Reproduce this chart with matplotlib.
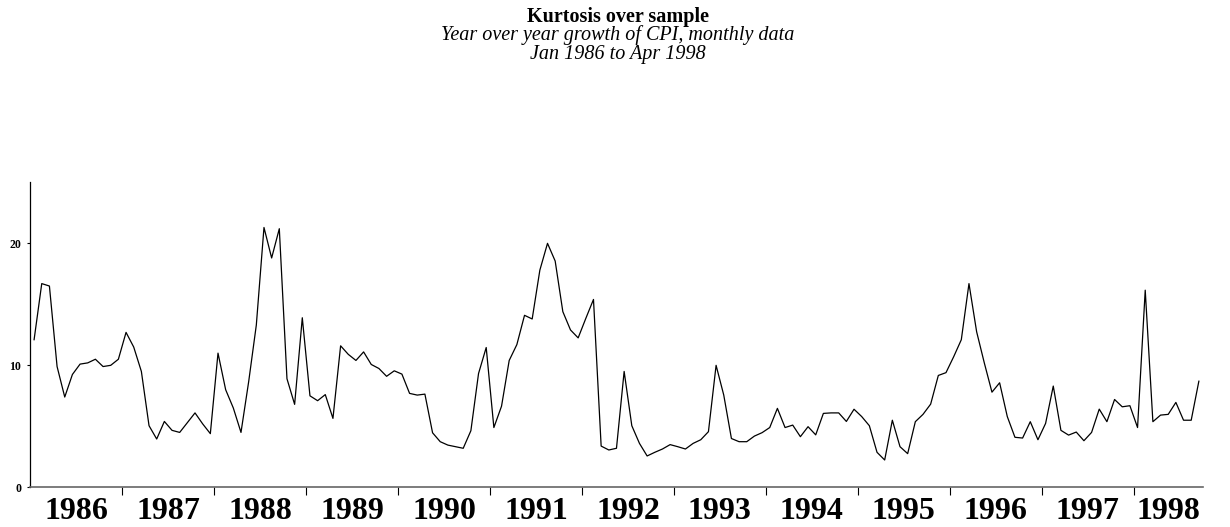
import matplotlib
matplotlib.use("Agg")
import matplotlib.pyplot as plt
import numpy as np

plt.rcParams["font.family"] = ["Liberation Serif", "DejaVu Serif"]

# Kurtosis
kurtosis = [
    12.1, 16.7, 16.5, 9.9, 7.4, 9.25, 10.1, 10.2, 10.5, 9.9, 10.0, 10.5,
    12.7, 11.5, 9.5, 5.05, 3.96, 5.4, 4.67, 4.5, 5.3, 6.1, 5.2, 4.4,
    11.0, 8.0, 6.5, 4.5, 8.65, 13.3, 21.3, 18.8, 21.2, 8.9, 6.8, 13.9,
    7.5, 7.1, 7.6, 5.65, 11.6, 10.9, 10.4, 11.1, 10.07, 9.74, 9.1, 9.55,
    9.28, 7.7, 7.56, 7.64, 4.47, 3.74, 3.46, 3.33, 3.2, 4.64, 9.33, 11.46,
    4.9, 6.65, 10.4, 11.7, 14.1, 13.8, 17.8, 20.0, 18.55, 14.4, 12.9, 12.25,
    13.85, 15.4, 3.38, 3.06, 3.2, 9.5, 5.05, 3.6, 2.57, 2.87, 3.14, 3.5,
    3.33, 3.14, 3.6, 3.9, 4.56, 10.0, 7.56, 4.0, 3.74, 3.74, 4.2, 4.48,
    4.9, 6.47, 4.9, 5.1, 4.15, 4.97, 4.3, 6.06, 6.1, 6.1, 5.4, 6.4,
    5.8, 5.05, 2.87, 2.24, 5.5, 3.33, 2.76, 5.38, 5.98, 6.82, 9.17, 9.4,
    10.7, 12.1, 16.7, 12.75, 10.2, 7.8, 8.57, 5.8, 4.1, 4.04, 5.38, 3.9,
    5.24, 8.3, 4.67, 4.28, 4.53, 3.82, 4.5, 6.41, 5.38, 7.2, 6.6, 6.69,
    4.9, 16.16, 5.38, 5.92, 5.98, 6.96, 5.5, 5.5, 8.7,
]
years = [str(y) for y in range(1986, 1999)]
y_ticks = [0, 10, 20]

fig = plt.figure(figsize=(12.3, 5.27), dpi=100)
ax = fig.add_axes([0.0246, 0.0753, 0.9532, 0.5787])

months = np.arange(len(kurtosis))
ax.plot(months, kurtosis, color="black", lw=0.9)

ax.set_xlim(-0.5, len(kurtosis) - 0.5)
ax.set_ylim(0, 25)

# year boundaries as major ticks, year names centred as minor labels
bounds = np.arange(11.5, len(kurtosis) - 0.5, 12)
ax.set_xticks(bounds)
ax.set_xticklabels([])
edges = np.concatenate([[-0.5], bounds, [len(kurtosis) - 0.5]])
centres = (edges[:-1] + edges[1:]) / 2
ax.set_xticks(centres, minor=True)
ax.set_xticklabels(years, minor=True, fontsize=23, fontweight="bold")
ax.tick_params(axis="x", which="major", direction="out", length=5.5, width=0.8)
ax.tick_params(axis="x", which="minor", length=0, pad=7)

ax.set_yticks(y_ticks)
ax.set_yticklabels([str(v) for v in y_ticks], fontsize=8.5, fontweight="bold")
ax.tick_params(axis="y", direction="out", length=2.5, width=0.8, pad=4)

for side in ("top", "right"):
    ax.spines[side].set_visible(False)
ax.spines["left"].set_linewidth(0.9)
ax.spines["bottom"].set_linewidth(1.2)
ax.spines["bottom"].set_color("#666666")

fig.text(0.5025, 1 - 17 / 527, "Kurtosis over sample", ha="center", va="center",
         fontsize=14.5, fontweight="bold")
fig.text(0.5025, 1 - 35.5 / 527, "Year over year growth of CPI, monthly data",
         ha="center", va="center", fontsize=14.5, fontstyle="italic")
fig.text(0.5025, 1 - 54 / 527, "Jan 1986 to Apr 1998", ha="center", va="center",
         fontsize=14.5, fontstyle="italic")

fig.savefig("out.png", dpi=100)
